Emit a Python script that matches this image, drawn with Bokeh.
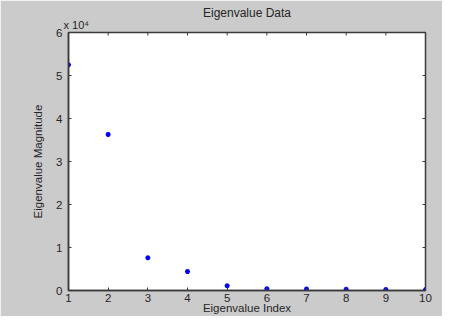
import math
from bokeh.plotting import figure
from bokeh.models import Range1d, FixedTicker, Title
from bokeh.embed import file_html
from bokeh.resources import INLINE

# data
eig_index = [1, 2, 3, 4, 5, 6, 7, 8, 9, 10]
eig_magnitude = [52500, 36300, 7600, 4400, 1100, 400, 350, 300, 250, 200]
x_ticks = [1, 2, 3, 4, 5, 6, 7, 8, 9, 10]
y_ticks = [0, 10000, 20000, 30000, 40000, 50000, 60000]
y_tick_labels = ["0", "1", "2", "3", "4", "5", "6"]

BG = "#cbcbcb"
AX = "#3a3a3a"
TXT = "#262626"
FONT = "Liberation Sans"

p = figure(width=442, height=316, output_backend="svg", toolbar_location=None,
           x_range=Range1d(x_ticks[0], x_ticks[-1]), y_range=Range1d(y_ticks[0], y_ticks[-1]),
           min_border_left=68, min_border_right=17, min_border_top=32, min_border_bottom=24,
           x_axis_label="Eigenvalue Index", y_axis_label="Eigenvalue Magnitude",
           title=None)
p.border_fill_color = BG
p.background_fill_color = "white"
p.outline_line_color = AX
p.outline_line_width = 1.5
p.xgrid.visible = False
p.ygrid.visible = False

# scale factor note (x 10^4) nearest the frame, then the title
p.add_layout(Title(text="x 10\u2074", align="left", offset=-5, standoff=4,
                   text_font=FONT, text_font_size="11px", text_font_style="normal",
                   text_color=TXT), "above")
p.add_layout(Title(text="Eigenvalue Data", align="center", standoff=-11,
                   text_font=FONT, text_font_size="12px", text_font_style="normal",
                   text_color=TXT), "above")

for ax in (p.xaxis[0], p.yaxis[0]):
    ax.axis_line_color = AX
    ax.axis_line_width = 1.5
    ax.major_tick_line_color = AX
    ax.major_tick_in = 3
    ax.major_tick_out = 0
    ax.minor_tick_line_color = None
    ax.major_label_text_font = FONT
    ax.major_label_text_font_size = "11.5px"
    ax.major_label_text_color = TXT
    ax.axis_label_text_font = FONT
    ax.axis_label_text_font_size = "11.5px"
    ax.axis_label_text_font_style = "normal"
    ax.axis_label_text_color = TXT

p.xaxis.ticker = FixedTicker(ticks=x_ticks)
p.yaxis.ticker = FixedTicker(ticks=y_ticks)
p.yaxis.major_label_overrides = {t: l for t, l in zip(y_ticks, y_tick_labels)}
p.xaxis.major_label_standoff = 3
p.xaxis.axis_label_standoff = -3
p.yaxis.major_label_standoff = 6
p.yaxis.axis_label_standoff = 9

# inward tick marks on the top and right edges of the box (clipped to the frame)
p.scatter(x_ticks, [y_ticks[-1]] * len(x_ticks), marker="dash", angle=math.pi / 2,
          size=6, line_color=AX, line_width=1)
p.scatter([x_ticks[-1]] * len(y_ticks), y_ticks, marker="dash",
          size=6, line_color=AX, line_width=1)

p.scatter(eig_index, eig_magnitude, marker="asterisk", size=5, line_width=1.5,
          line_color="#0000ff")

open("out.html", "w").write(file_html(p, INLINE))
